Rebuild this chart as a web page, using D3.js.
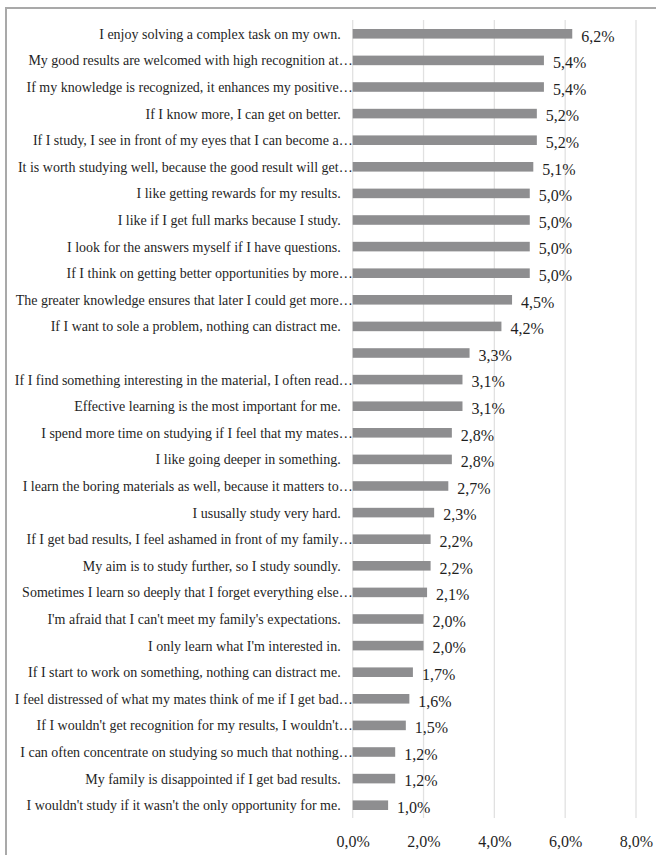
<!DOCTYPE html>
<html>
<head>
<meta charset="utf-8">
<script src="https://cdn.jsdelivr.net/npm/d3@7"></script>
<style>
  html, body { margin: 0; padding: 0; background: #fff; }
  svg { display: block; }
</style>
</head>
<body>
<svg id="chart" width="656" height="855"></svg>
<script>
// Survey statements (top to bottom) and their shares in percent
const categories = [
  "I enjoy solving a complex task on my own.",
  "My good results are welcomed with high recognition at…",
  "If my knowledge is recognized, it enhances my positive…",
  "If I know more, I can get on better.",
  "If I study, I see in front of my eyes that I can become a…",
  "It is worth studying well, because the good result will get…",
  "I like getting rewards for my results.",
  "I like if I get full marks because I study.",
  "I look for the answers myself if I have questions.",
  "If I think on getting better opportunities by more…",
  "The greater knowledge ensures that later I could get more…",
  "If I want to sole a problem, nothing can distract me.",
  "",
  "If I find something interesting in the material, I often read…",
  "Effective learning is the most important for me.",
  "I spend more time on studying if I feel that my mates…",
  "I like going deeper in something.",
  "I learn the boring materials as well, because it matters to…",
  "I ususally study very hard.",
  "If I get bad results, I feel ashamed in front of my family…",
  "My aim is to study further, so I study soundly.",
  "Sometimes I learn so deeply that I forget everything else…",
  "I'm afraid that I can't meet my family's expectations.",
  "I only learn what I'm interested in.",
  "If I start to work on something, nothing can distract me.",
  "I feel distressed of what my mates think of me if I get bad…",
  "If I wouldn't get recognition for my results, I wouldn't…",
  "I can often concentrate on studying so much that nothing…",
  "My family is disappointed if I get bad results.",
  "I wouldn't study if it wasn't the only opportunity for me."
];
const values = [
  6.2, 5.4, 5.4, 5.2, 5.2, 5.1, 5.0, 5.0, 5.0, 5.0,
  4.5, 4.2, 3.3, 3.1, 3.1, 2.8, 2.8, 2.7, 2.3, 2.2,
  2.2, 2.1, 2.0, 2.0, 1.7, 1.6, 1.5, 1.2, 1.2, 1.0
];
const tickValues = [0, 2, 4, 6, 8];

const fmt = v => v.toFixed(1).replace(".", ",") + "%";
const rows = categories.map((c, i) => ({ key: i, label: c, value: values[i] }));

const svg = d3.select("#chart");
const font = "'Liberation Serif', 'Times New Roman', serif";
const textColor = "#1f1f1f";

// outer frame
svg.append("rect")
  .attr("x", 6).attr("y", 8)
  .attr("width", 700).attr("height", 900)
  .attr("fill", "none")
  .attr("stroke", "#a9a9a9")
  .attr("stroke-width", 2);

const x = d3.scaleLinear().domain([0, 8]).range([352.7, 636]);
const y = d3.scaleBand()
  .domain(rows.map(d => d.key))
  .range([20.5, 818.5])
  .paddingInner(0.64)
  .paddingOuter(0.32);

// vertical gridlines
svg.append("g")
  .selectAll("line")
  .data(tickValues)
  .join("line")
  .attr("x1", d => x(d)).attr("x2", d => x(d))
  .attr("y1", 20).attr("y2", 818)
  .attr("stroke", "#e1e1e1")
  .attr("stroke-width", 1.3);

// bars
svg.append("g")
  .selectAll("rect")
  .data(rows)
  .join("rect")
  .attr("x", x(0))
  .attr("y", d => y(d.key))
  .attr("width", d => x(d.value) - x(0))
  .attr("height", y.bandwidth())
  .attr("fill", "#8e8e90");

// category labels
svg.append("g")
  .selectAll("text")
  .data(rows)
  .join("text")
  .attr("x", d => d.label.endsWith("…") ? x(0) : x(0) - 12)
  .attr("y", d => y(d.key) + y.bandwidth() / 2)
  .attr("dy", "0.36em")
  .attr("text-anchor", "end")
  .attr("font-family", font)
  .attr("font-size", 14)
  .attr("fill", textColor)
  .text(d => d.label);

// value labels
svg.append("g")
  .selectAll("text")
  .data(rows)
  .join("text")
  .attr("x", d => x(d.value) + 9)
  .attr("y", d => y(d.key) + y.bandwidth() / 2 + 2)
  .attr("dy", "0.36em")
  .attr("font-family", font)
  .attr("font-size", 16)
  .attr("fill", textColor)
  .text(d => fmt(d.value));

// x axis tick labels
const axis = d3.axisBottom(x).tickValues(tickValues).tickFormat(fmt).tickSize(0).tickPadding(0);
const gAxis = svg.append("g").attr("transform", "translate(0,836)").call(axis);
gAxis.select(".domain").remove();
gAxis.selectAll("text")
  .attr("font-family", font)
  .attr("font-size", 16)
  .attr("fill", textColor);
</script>
</body>
</html>
